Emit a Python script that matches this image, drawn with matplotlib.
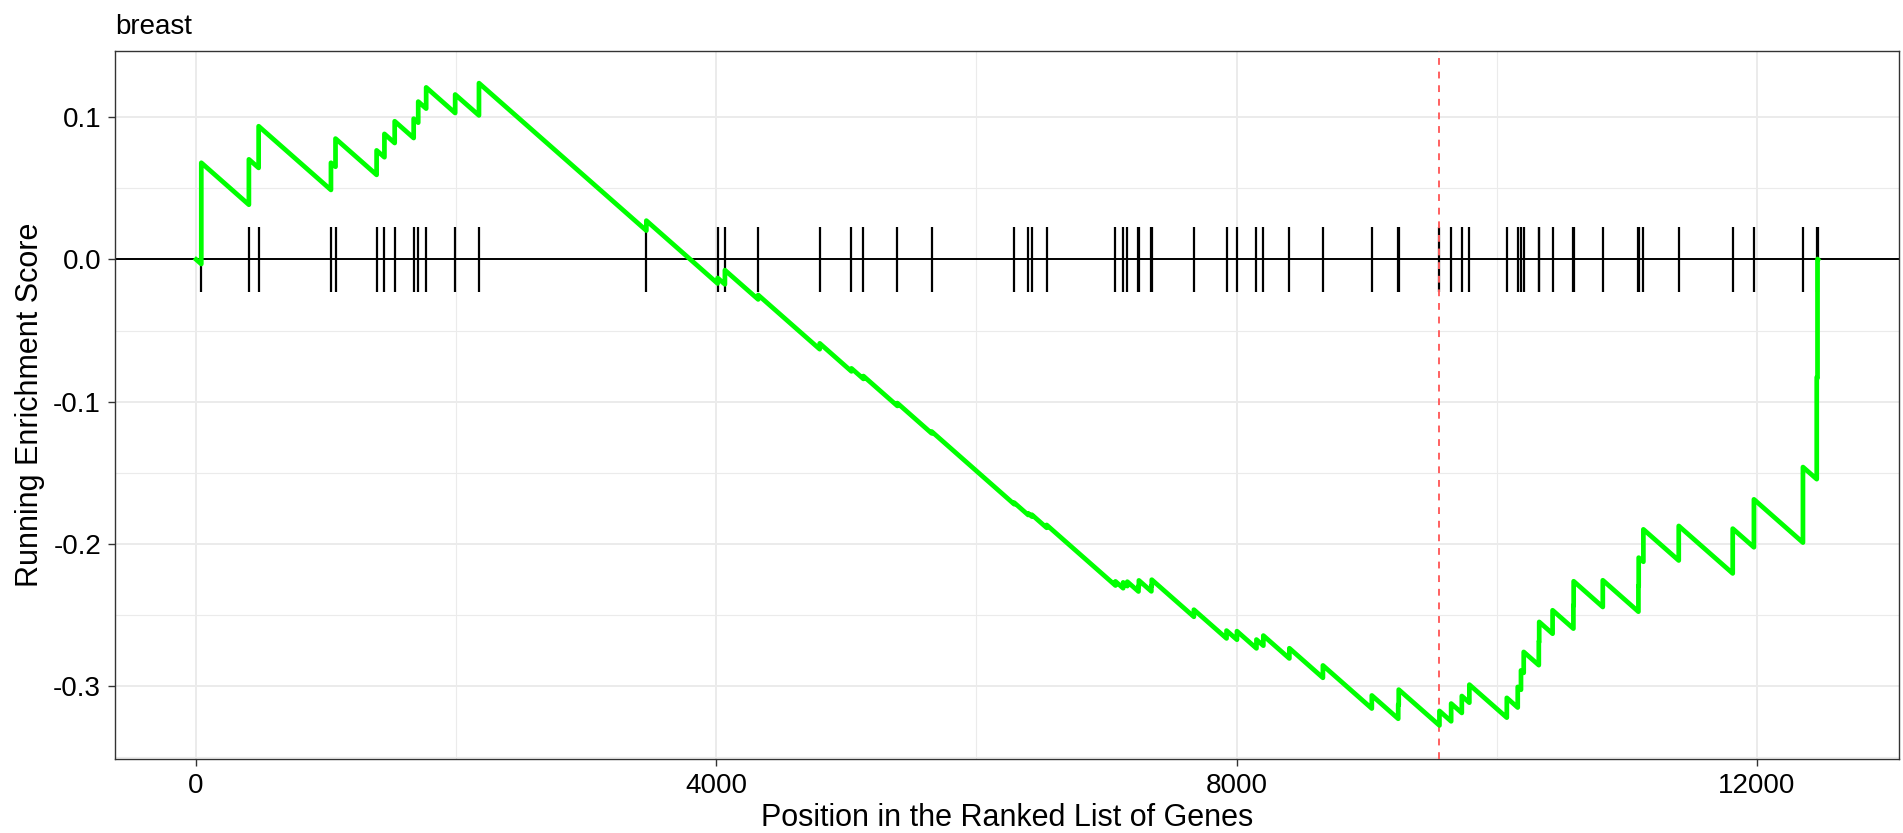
import matplotlib.pyplot as plt
from matplotlib.ticker import MultipleLocator

plt.rcParams['font.family'] = ['Liberation Sans', 'DejaVu Sans']

# ranked list size and positions of the gene set members (hits)
n_genes = 12470
hit_pos = [40, 406, 481, 1037, 1072, 1388, 1448, 1527, 1673, 1708, 1769, 1992, 2175,
           3462, 4010, 4066, 4322, 4795, 5039, 5131, 5392, 5656,
           6290, 6398, 6426, 6540, 7069, 7128, 7160, 7246, 7249, 7345, 7348,
           7672, 7923, 8003, 8153, 8206, 8406, 8664, 9040, 9243, 9247,
           9560, 9650, 9732, 9790, 10078, 10162, 10187, 10208, 10324, 10327, 10430, 10590, 10592,
           10816, 11090, 11092, 11128, 11400, 11815, 11978, 12355, 12461, 12467]

# running enrichment score just before / just after each hit
es_before = [-0.0032, 0.0385, 0.0644, 0.0489, 0.0652, 0.0595, 0.0719, 0.0819, 0.0854, 0.0962, 0.1061, 0.1030, 0.1013,
             0.0203, -0.0169, -0.0175, -0.0281, -0.0631, -0.0787, -0.0840, -0.1030, -0.1223,
             -0.1721, -0.1797, -0.1808, -0.1887, -0.2293, -0.2312, -0.2297, -0.2335, -0.2299, -0.2334, -0.2297,
             -0.2513, -0.2665, -0.2674, -0.2735, -0.2716, -0.2806, -0.2942, -0.3158, -0.3230, -0.3133,
             -0.3277, -0.3248, -0.3189, -0.3117, -0.3222, -0.3151, -0.3026, -0.2907, -0.2853, -0.2689, -0.2632, -0.2596, -0.2434,
             -0.2444, -0.2477, -0.2298, -0.2126, -0.2117, -0.2208, -0.2024, -0.1991, -0.1545, -0.0833]
es_after = [0.0680, 0.0704, 0.0937, 0.0680, 0.0850, 0.0767, 0.0883, 0.0972, 0.0990, 0.1110, 0.1210, 0.1160, 0.1240,
            0.0273, -0.0130, -0.0075, -0.0250, -0.0590, -0.0766, -0.0820, -0.1010, -0.1210,
            -0.1710, -0.1785, -0.1795, -0.1867, -0.2264, -0.2271, -0.2266, -0.2297, -0.2257, -0.2295, -0.2252,
            -0.2463, -0.2610, -0.2614, -0.2673, -0.2645, -0.2734, -0.2855, -0.3066, -0.3130, -0.3025,
            -0.3175, -0.3123, -0.3070, -0.2990, -0.3083, -0.3006, -0.2890, -0.2760, -0.2687, -0.2549, -0.2467, -0.2432, -0.2263,
            -0.2256, -0.2296, -0.2097, -0.1898, -0.1874, -0.1893, -0.1687, -0.1460, -0.0828, 0.0003]
es_end = 0.0

min_pos = 9560  # position of the maximum deviation

# build the step curve
xs, ys = [0], [0.0]
for p, b, a in zip(hit_pos, es_before, es_after):
    xs += [p, p]
    ys += [b, a]
xs.append(n_genes)
ys.append(es_end)

fig = plt.figure(figsize=(19.03, 8.33), dpi=100)
ax = fig.add_axes([115 / 1903, 1 - 759 / 833, 1784 / 1903, 708 / 833])

ax.axhline(0, color='black', lw=1.4, zorder=2)
ax.vlines(hit_pos, -0.023, 0.023, color='black', lw=1.6, zorder=3)
ax.axvline(min_pos, color='#FF6060', lw=1.4, linestyle=(0, (3.5, 3.5)), zorder=4)
ax.plot(xs, ys, color='#00FF00', lw=3.4, solid_joinstyle='round', zorder=5)

ax.set_xlim(-0.05 * n_genes, 1.05 * n_genes)
ax.set_ylim(-0.3513, 0.1466)

ax.xaxis.set_major_locator(MultipleLocator(4000))
ax.xaxis.set_minor_locator(MultipleLocator(2000))
ax.yaxis.set_major_locator(MultipleLocator(0.1))
ax.yaxis.set_minor_locator(MultipleLocator(0.05))
ax.set_yticks([0.1, 0.0, -0.1, -0.2, -0.3])
ax.set_yticklabels(['0.1', '0.0', '-0.1', '-0.2', '-0.3'])

ax.grid(which='major', color='#EBEBEB', lw=1.4)
ax.grid(which='minor', color='#EBEBEB', lw=0.8)
ax.set_axisbelow(True)

for s in ax.spines.values():
    s.set_color('#333333')
    s.set_linewidth(1.0)

ax.tick_params(which='major', length=5, width=1.0, color='#333333', labelsize=20, labelcolor='black', pad=5)
ax.tick_params(which='minor', length=0)

ax.set_xlabel('Position in the Ranked List of Genes', fontsize=22, labelpad=3)
ax.set_ylabel('Running Enrichment Score', fontsize=22, labelpad=6)
ax.set_title('breast', loc='left', fontsize=20, pad=12)

fig.savefig('out.png', dpi=100)
